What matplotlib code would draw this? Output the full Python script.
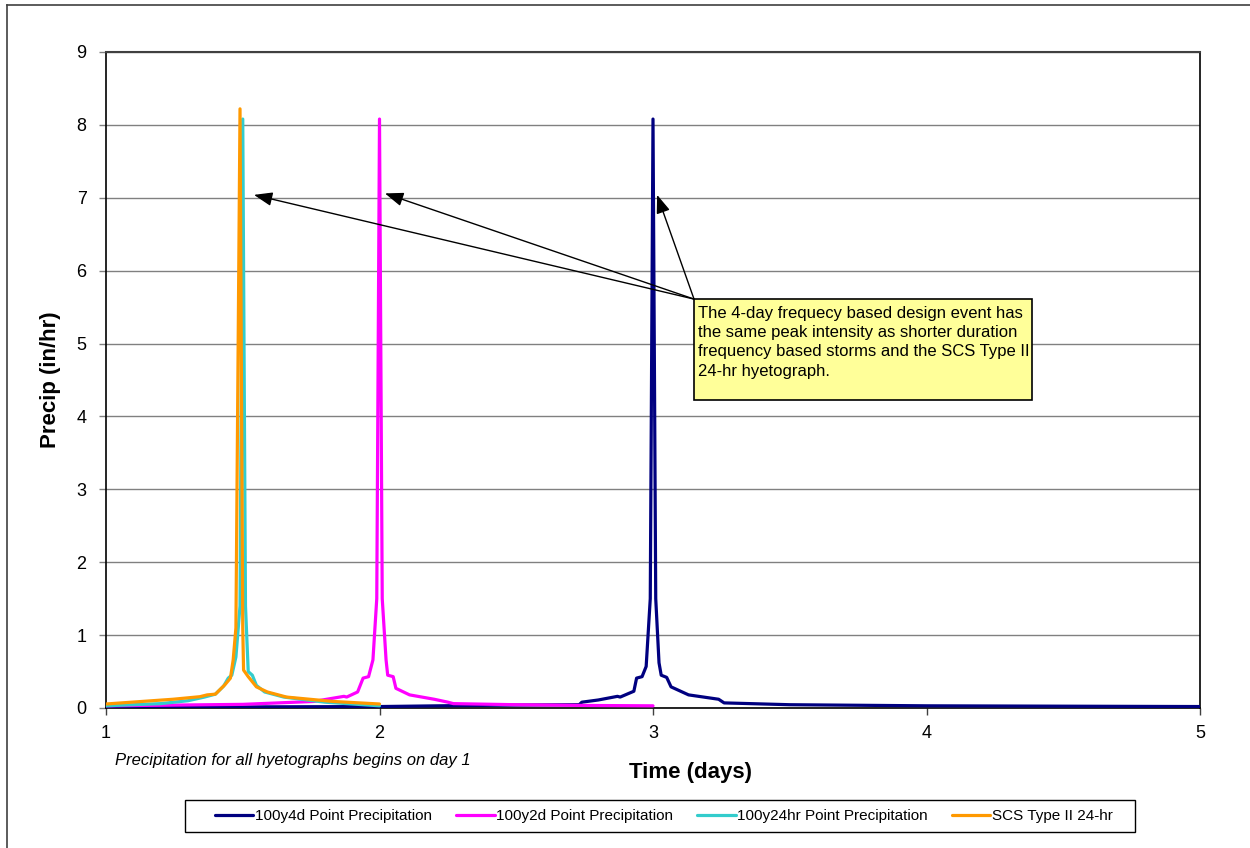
import matplotlib
matplotlib.use("Agg")
import matplotlib.pyplot as plt
from matplotlib.lines import Line2D
from matplotlib.patches import Rectangle

plt.rcParams['font.family'] = ['Liberation Sans', 'DejaVu Sans']

# --- hyetograph data (time in days, intensity in in/hr) ---
t_4day = [1.0, 1.5, 2.0, 2.22, 2.5, 2.73, 2.74, 2.8, 2.87, 2.88, 2.93, 2.94, 2.96,
          2.975, 2.99, 3.0, 3.01, 3.022, 3.03, 3.05, 3.066, 3.13, 3.24, 3.26, 3.5,
          4.0, 4.5, 5.0]
p_4day = [0.01, 0.015, 0.02, 0.03, 0.04, 0.045, 0.08, 0.11, 0.16, 0.15, 0.23, 0.41,
          0.43, 0.57, 1.5, 8.08, 1.5, 0.62, 0.45, 0.42, 0.29, 0.18, 0.12, 0.07, 0.045,
          0.03, 0.025, 0.02]

t_2day = [1.0, 1.25, 1.5, 1.76, 1.87, 1.88, 1.92, 1.94, 1.96, 1.976, 1.99, 2.0,
          2.01, 2.024, 2.03, 2.05, 2.06, 2.11, 2.2, 2.25, 2.27, 2.5, 2.75, 3.0]
p_2day = [0.03, 0.04, 0.05, 0.09, 0.16, 0.15, 0.22, 0.41, 0.43, 0.66, 1.5, 8.08,
          1.5, 0.66, 0.45, 0.43, 0.27, 0.18, 0.12, 0.08, 0.06, 0.045, 0.035, 0.03]

t_24hr = [1.0, 1.2, 1.3, 1.36, 1.4, 1.43, 1.447, 1.46, 1.475, 1.49, 1.5, 1.51,
          1.52, 1.535, 1.55, 1.58, 1.65, 1.8, 2.0]
p_24hr = [0.03, 0.06, 0.1, 0.15, 0.19, 0.3, 0.41, 0.45, 0.7, 1.4, 8.08, 1.4,
          0.5, 0.45, 0.31, 0.22, 0.15, 0.08, 0.03]

t_scs = [1.0, 1.245, 1.343, 1.37, 1.40, 1.435, 1.455, 1.465, 1.475, 1.49, 1.50,
         1.503, 1.52, 1.55, 1.59, 1.66, 1.83, 2.0]
p_scs = [0.055, 0.12, 0.155, 0.18, 0.19, 0.32, 0.41, 0.66, 1.1, 8.22, 1.1,
         0.52, 0.43, 0.29, 0.22, 0.15, 0.09, 0.055]

series_labels = ["100y4d Point Precipitation", "100y2d Point Precipitation",
                 "100y24hr Point Precipitation", "SCS Type II 24-hr"]
series_colors = ["#000080", "#FF00FF", "#33CCCC", "#FF9900"]

x_ticks = [1, 2, 3, 4, 5]
y_ticks = [0, 1, 2, 3, 4, 5, 6, 7, 8, 9]

note_text = ("The 4-day frequecy based design event has\n"
             "the same peak intensity as shorter duration\n"
             "frequency based storms and the SCS Type II\n"
             "24-hr hyetograph.")
note_anchor = (3.15, 5.61)
note_targets = [(1.541, 7.04), (2.02, 7.06), (3.015, 7.04)]

W, H = 1250, 848
fig = plt.figure(figsize=(W / 100, H / 100), dpi=100)
ax = fig.add_axes([106 / W, 1 - 708 / H, (1200 - 106) / W, (708 - 52) / H])

# outer chart frame (top and left edges visible)
fig.add_artist(Line2D([7 / W, 1.0], [1 - 5 / H, 1 - 5 / H], color="#404040", lw=1.2,
                      transform=fig.transFigure))
fig.add_artist(Line2D([7 / W, 7 / W], [0.0, 1 - 5 / H], color="#404040", lw=1.2,
                      transform=fig.transFigure))

handles = []
for t, p, lab, col in zip([t_4day, t_2day, t_24hr, t_scs],
                          [p_4day, p_2day, p_24hr, p_scs],
                          series_labels, series_colors):
    h, = ax.plot(t, p, color=col, lw=2.3, label=lab, solid_joinstyle="round",
                 solid_capstyle="round", zorder=3)
    handles.append(h)

ax.set_xlim(1, 5)
ax.set_ylim(0, 9)
ax.set_xticks(x_ticks)
ax.set_yticks(y_ticks)
ax.yaxis.grid(True, color="#808080", lw=1.0)
ax.set_axisbelow(True)

for side in ["left", "right", "bottom"]:
    ax.spines[side].set_color("black")
    ax.spines[side].set_linewidth(1.2)
ax.spines["top"].set_color("#404040")
ax.spines["top"].set_linewidth(1.5)

ax.tick_params(axis="x", direction="out", length=5, width=1, color="#404040",
               labelsize=13, pad=7)
ax.tick_params(axis="y", direction="out", length=5, width=1, color="#808080",
               labelsize=13, pad=9)

ax.set_ylabel("Precip (in/hr)", fontsize=16, fontweight="bold")
ax.yaxis.set_label_coords(-0.041, 0.5)
ax.set_xlabel("Time (days)", fontsize=16, fontweight="bold", va="center")
ax.xaxis.set_label_coords(0.534, -0.099)

fig.text(293 / W, 1 - 761 / H, "Precipitation for all hyetographs begins on day 1",
         fontsize=12, style="italic", ha="center", va="center")

# callout arrows and box
for tgt in note_targets:
    ax.annotate("", xy=tgt, xytext=note_anchor, xycoords="data", textcoords="data",
                arrowprops=dict(arrowstyle="-|>,head_length=0.8,head_width=0.3",
                                color="black", lw=1.0, shrinkA=0, shrinkB=0,
                                mutation_scale=14),
                zorder=5)

box_x0, box_y0 = note_anchor
box_x1 = 1 + (1032 - 106) / 273.5
box_y1 = (708 - 400) / 72.9
ax.add_patch(Rectangle((box_x0, box_y1), box_x1 - box_x0, box_y0 - box_y1,
                       facecolor="#FFFF99", edgecolor="black", lw=1.2, zorder=6))
ax.text(box_x0 + 0.014, box_y0 - 0.09, note_text, fontsize=12, ha="left", va="top",
        linespacing=1.36, zorder=7)

# legend: entries in one row inside a plain rectangular frame
fig.add_artist(Rectangle((185 / W, 1 - 832 / H), (1135 - 185) / W, 32 / H,
                         transform=fig.transFigure, facecolor="white",
                         edgecolor="black", lw=1.0, zorder=1))
leg = fig.legend(handles=handles, labels=series_labels, loc="center",
                 bbox_to_anchor=(664 / W, 1 - 816 / H), ncol=4, fontsize=11,
                 frameon=False, handlelength=2.5, handletextpad=0.1,
                 columnspacing=1.6, borderpad=0.3, borderaxespad=0.0)
leg.set_zorder(2)

fig.savefig("out.png", dpi=100)
